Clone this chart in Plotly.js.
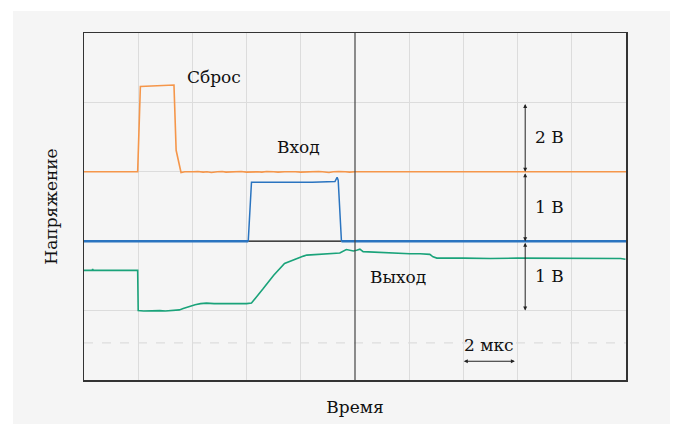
<!DOCTYPE html>
<html>
<head>
<meta charset="utf-8">
<script src="https://cdn.plot.ly/plotly-3.0.1.min.js"></script>
<style>
  html, body { margin: 0; padding: 0; background: #ffffff; }
  #chart { position: absolute; left: 13px; top: 11px; width: 657px; height: 413px; }
</style>
</head>
<body>
<div id="chart"></div>
<script>
// Time axis in divisions (10 divisions, 2 µs each); voltage axis in divisions (5 divisions).

// Reset pulse (orange channel)
const resetX = [0, 0.5, 0.99, 1.04, 1.35, 1.66, 1.70, 1.79, 1.86, 1.95, 2.02, 2.1, 2.2, 2.27, 2.35, 2.46, 2.55, 2.62, 2.73, 2.8, 2.9, 3.0, 3.08, 3.2, 3.28, 3.37, 3.5, 3.58, 3.7, 3.8, 3.9, 4.0, 4.12, 4.2, 4.33, 4.4, 4.52, 4.6, 4.7, 4.82, 4.9, 5.0, 5.1, 5.22, 5.3, 5.42, 5.5, 5.6, 5.72, 5.8, 5.92, 6.0, 6.1, 6.2, 6.32, 6.4, 6.5, 6.62, 6.7, 6.82, 6.9, 7.0, 7.12, 7.2, 7.3, 7.42, 7.5, 7.6, 7.72, 7.8, 7.9, 8.0, 8.12, 8.2, 8.3, 8.42, 8.5, 8.62, 8.7, 8.8, 8.92, 9.0, 9.1, 9.22, 9.3, 9.4, 9.52, 9.6, 9.7, 9.82, 9.9, 10];
const resetY = [3.0, 3.0, 3.0, 4.23, 4.24, 4.25, 3.31, 2.99, 3.0, 2.995, 3.0, 3.005, 2.995, 3.0, 2.99, 3.0, 3.005, 2.995, 3.0, 3.0, 3.005, 2.995, 3.0, 3.0, 2.995, 3.005, 3.0, 2.995, 3.0, 3.005, 3.0, 2.995, 3.0, 3.0, 3.005, 3.0, 2.99, 3.0, 3.005, 3.0, 2.995, 3.0, 3.0, 3.005, 2.995, 3.0, 3.0, 3.005, 3.0, 2.995, 3.0, 3.0, 3.005, 3.0, 2.995, 3.0, 3.005, 3.0, 2.995, 3.0, 3.0, 3.005, 3.0, 2.995, 3.0, 3.005, 3.0, 3.0, 2.995, 3.0, 3.005, 3.0, 3.0, 2.995, 3.0, 3.005, 3.0, 2.995, 3.0, 3.0, 3.005, 3.0, 2.995, 3.0, 3.005, 3.0, 3.0, 2.995, 3.0, 3.005, 3.0, 3.0];

// Input pulse (blue channel)
const inputBaseX = [0, 3.03, null, 4.75, 10];
const inputBaseY = [2.0, 2.0, null, 2.0, 2.0];
const inputPulseX = [3.03, 3.09, 3.6, 4.15, 4.18, 4.21, 4.63, 4.67, 4.69, 4.75];
const inputPulseY = [2.0, 2.85, 2.85, 2.85, 2.84, 2.85, 2.86, 2.92, 2.88, 2.0];
const inputRefX = [3.03, 4.75];
const inputRefY = [2.0, 2.0];

// Output (green channel)
const outputX = [0, 0.15, 0.16, 0.17, 0.99, 1.0, 1.1, 1.2, 1.3, 1.4, 1.5, 1.6, 1.7, 1.76, 1.83, 1.9, 1.97, 2.05, 2.15, 2.26, 2.4, 2.6, 2.8, 3.0, 3.09, 3.3, 3.5, 3.7, 3.85, 3.95, 4.05, 4.11, 4.3, 4.5, 4.72, 4.84, 4.97, 5.03, 5.09, 5.15, 5.4, 5.7, 6.01, 6.2, 6.38, 6.44, 6.51, 7.0, 7.5, 8.0, 8.5, 9.0, 9.5, 9.9, 9.99];
const outputY = [1.58, 1.58, 1.6, 1.58, 1.58, 1.0, 0.995, 1.0, 0.995, 1.0, 0.995, 1.0, 1.0, 1.01, 1.03, 1.05, 1.07, 1.085, 1.1, 1.107, 1.1, 1.105, 1.1, 1.1, 1.11, 1.31, 1.51, 1.68, 1.73, 1.76, 1.785, 1.8, 1.81, 1.82, 1.83, 1.88, 1.86, 1.87, 1.885, 1.85, 1.84, 1.83, 1.82, 1.82, 1.81, 1.775, 1.756, 1.756, 1.75, 1.756, 1.755, 1.75, 1.755, 1.75, 1.74];

// Labels
const traceLabels = [
  { text: 'Сброс', x: 2.39, y: 4.37 },
  { text: 'Вход',  x: 3.96, y: 3.36 },
  { text: 'Выход', x: 5.79, y: 1.48 }
];
const scaleX = 8.14;
const scaleSpans = [[4, 3], [3, 2], [2, 1]];
const scaleLabels = ['2 В', '1 В', '1 В'];
const timeSpan = [6.98, 7.95];
const timeLabel = '2 мкс';

const FONT = 'DejaVu Serif, Liberation Serif, serif';
const FSIZE = 17;

const traces = [
  { x: resetX, y: resetY, mode: 'lines', line: { color: '#f5964a', width: 1.6 }, hoverinfo: 'skip' },
  { x: inputRefX, y: inputRefY, mode: 'lines', line: { color: '#111111', width: 1.2 }, hoverinfo: 'skip' },
  { x: inputBaseX, y: inputBaseY, mode: 'lines', line: { color: '#2a74c0', width: 2.6 }, connectgaps: false, hoverinfo: 'skip' },
  { x: inputPulseX, y: inputPulseY, mode: 'lines', line: { color: '#2a74c0', width: 1.5 }, hoverinfo: 'skip' },
  { x: outputX, y: outputY, mode: 'lines', line: { color: '#1aa37a', width: 1.6 }, hoverinfo: 'skip' }
];

const annotations = [];
traceLabels.forEach(l => annotations.push({
  x: l.x, y: l.y, xref: 'x', yref: 'y', text: l.text, showarrow: false,
  font: { family: FONT, size: FSIZE, color: '#111' }
}));
scaleSpans.forEach((s, i) => {
  annotations.push({
    x: scaleX, y: s[1], ax: scaleX, ay: s[0], xref: 'x', yref: 'y', axref: 'x', ayref: 'y',
    text: '', showarrow: true, arrowhead: 2, startarrowhead: 2, arrowside: 'end+start',
    arrowsize: 0.8, startarrowsize: 0.8, arrowwidth: 1, arrowcolor: '#222', standoff: 0, startstandoff: 0
  });
  annotations.push({
    x: scaleX + 0.15, y: (s[0] + s[1]) / 2, xref: 'x', yref: 'y', xanchor: 'left',
    text: scaleLabels[i], showarrow: false, font: { family: FONT, size: FSIZE, color: '#111' }
  });
});
annotations.push({
  x: timeSpan[1], y: 0.27, ax: timeSpan[0], ay: 0.27, xref: 'x', yref: 'y', axref: 'x', ayref: 'y',
  text: '', showarrow: true, arrowhead: 2, startarrowhead: 2, arrowside: 'end+start',
  arrowsize: 0.8, startarrowsize: 0.8, arrowwidth: 1, arrowcolor: '#222', standoff: 0, startstandoff: 0
});
annotations.push({
  x: (timeSpan[0] + timeSpan[1]) / 2, y: 0.5, xref: 'x', yref: 'y',
  text: timeLabel, showarrow: false, font: { family: FONT, size: FSIZE, color: '#111' }
});

const shapes = [
  { type: 'line', xref: 'x', yref: 'y', x0: 0, x1: 10, y0: 0.534, y1: 0.534,
    line: { color: '#dddddd', width: 1.2, dash: 'dash' }, layer: 'below' },
  { type: 'line', xref: 'x', yref: 'y', x0: 5, x1: 5, y0: 0, y1: 5,
    line: { color: '#444444', width: 1.2 }, layer: 'above' }
];

const layout = {
  width: 657, height: 413,
  margin: { l: 71, r: 44, t: 22, b: 44 },
  paper_bgcolor: '#f5f5f5', plot_bgcolor: '#f5f5f5',
  showlegend: false,
  font: { family: FONT, size: FSIZE, color: '#111' },
  xaxis: {
    range: [0, 10], tickvals: [1, 2, 3, 4, 6, 7, 8, 9], showticklabels: false, ticks: '',
    showgrid: true, gridcolor: '#dcdcdc', gridwidth: 1.3, zeroline: false,
    showline: true, mirror: true, linecolor: '#333', linewidth: 1.5,
    title: { text: 'Время', font: { family: FONT, size: FSIZE, color: '#111' }, standoff: 20 }
  },
  yaxis: {
    range: [0, 5], tickvals: [1, 2, 3, 4], showticklabels: false, ticks: '',
    showgrid: true, gridcolor: '#dcdcdc', gridwidth: 1.3, zeroline: false,
    showline: true, mirror: true, linecolor: '#333', linewidth: 1.5,
    title: { text: 'Напряжение', font: { family: FONT, size: FSIZE, color: '#111' }, standoff: 20 }
  },
  annotations: annotations,
  shapes: shapes
};

Plotly.newPlot('chart', traces, layout, { displayModeBar: false, staticPlot: true });
</script>
</body>
</html>
